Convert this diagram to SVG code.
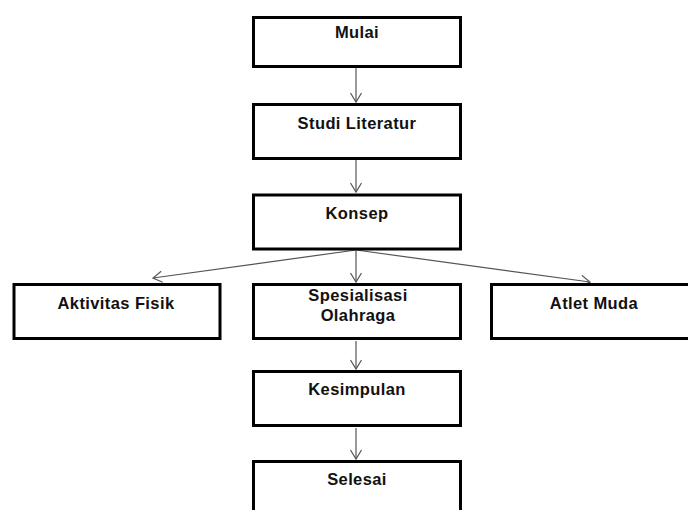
<svg xmlns="http://www.w3.org/2000/svg" width="688" height="510" viewBox="0 0 688 510">
<style>
.box{fill:#fff;stroke:#000;stroke-width:3}
.lbl{font-family:"Liberation Sans",Arial,sans-serif;font-weight:bold;font-size:16.5px;letter-spacing:0.4px;fill:#111;text-anchor:middle}
.edge{stroke:#555;stroke-width:1.2;fill:none;marker-end:url(#arr)}
</style>
<defs>
<marker id="arr" markerUnits="userSpaceOnUse" markerWidth="14" markerHeight="14" refX="10" refY="6" orient="auto">
<path d="M1,0.5 L10,6 L1,11.5" fill="none" stroke="#555" stroke-width="1.2"/>
</marker>
</defs>
<rect width="688" height="510" fill="#fff"/>
<g id="connectors">
<line class="edge" x1="356" y1="68" x2="356" y2="102"/>
<line class="edge" x1="356" y1="160" x2="356" y2="192"/>
<line class="edge" x1="356" y1="251" x2="356" y2="282"/>
<line class="edge" x1="356" y1="250" x2="153" y2="278"/>
<line class="edge" x1="356" y1="250" x2="590" y2="282"/>
<line class="edge" x1="356" y1="341" x2="356" y2="369"/>
<line class="edge" x1="356" y1="428" x2="356" y2="459"/>
</g>
<g id="mulai"><rect class="box" x="253.5" y="17.5" width="207" height="49"/><text class="lbl" x="357" y="37.5">Mulai</text></g>
<g id="studi"><rect class="box" x="253.5" y="104.5" width="207" height="54"/><text class="lbl" x="357" y="128.5">Studi Literatur</text></g>
<g id="konsep"><rect class="box" x="253.5" y="195" width="207" height="54"/><text class="lbl" x="357" y="219">Konsep</text></g>
<g id="aktivitas"><rect class="box" x="14" y="284.5" width="206" height="54"/><text class="lbl" x="116" y="309">Aktivitas Fisik</text></g>
<g id="spesialisasi"><rect class="box" x="253.5" y="284.5" width="207" height="54"/><text class="lbl" x="358" y="301">Spesialisasi</text><text class="lbl" x="358" y="321">Olahraga</text></g>
<g id="atlet"><rect class="box" x="491.5" y="284.5" width="210" height="54"/><text class="lbl" x="594" y="309">Atlet Muda</text></g>
<g id="kesimpulan"><rect class="box" x="253.5" y="371.5" width="207" height="54"/><text class="lbl" x="357" y="395">Kesimpulan</text></g>
<g id="selesai"><rect class="box" x="253.5" y="461.5" width="207" height="54"/><text class="lbl" x="357" y="485">Selesai</text></g>
</svg>
